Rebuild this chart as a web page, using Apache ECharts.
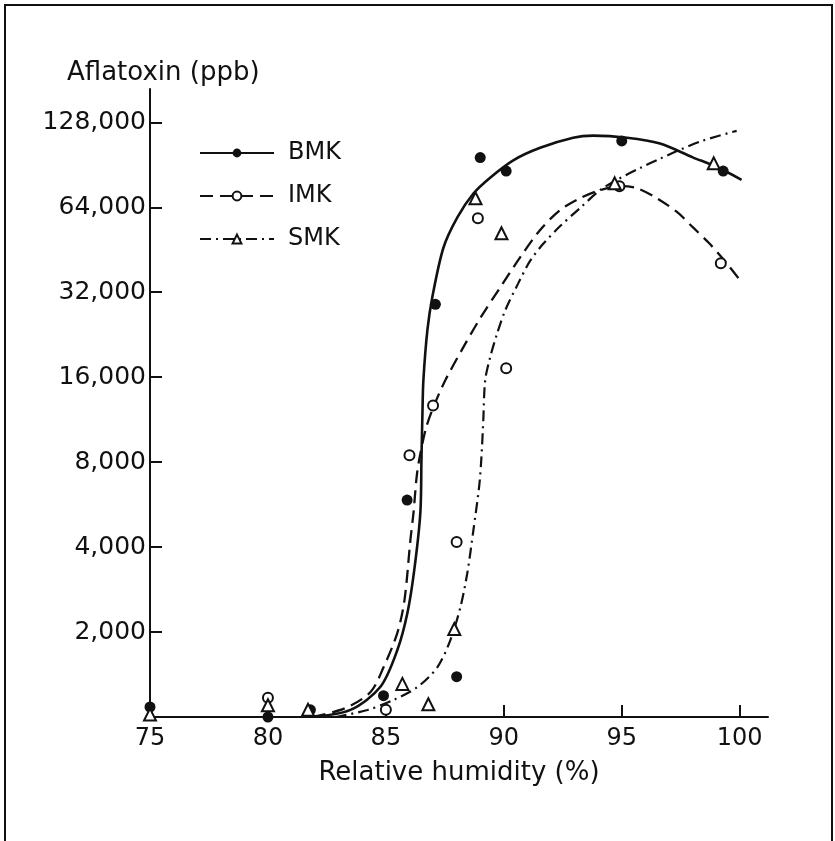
<!DOCTYPE html>
<html>
<head>
<meta charset="utf-8">
<script src="https://cdn.jsdelivr.net/npm/echarts@6/dist/echarts.min.js"></script>
<style>
  html, body { margin: 0; padding: 0; background: #fff; }
  #chart { width: 835px; height: 841px; }
</style>
</head>
<body>
<div id="chart"></div>
<script>
// aflatoxin values are in thousands of ppb (log2 axis: 2, 4, ... 128)
const yTicks = [2, 4, 8, 16, 32, 64, 128];
const xTicks = [75, 80, 85, 90, 95, 100];

// measured points
const bmkPoints = [[75, 1.085], [80, 1.0], [81.8, 1.06], [84.9, 1.19], [85.9, 5.87], [87.1, 29.0],
  [88.0, 1.39], [89.0, 96], [90.1, 86], [95.0, 110], [99.3, 86]];
const imkPoints = [[80, 1.17], [85.0, 1.06], [86.0, 8.47], [87.0, 12.7], [88.0, 4.17], [88.9, 58.5],
  [90.1, 17.2], [94.9, 76.0], [99.2, 40.5]];
const smkPoints = [[75, 1.02], [80, 1.10], [81.7, 1.06], [85.7, 1.31], [86.8, 1.11], [87.9, 2.05],
  [88.8, 68.9], [89.9, 51.8], [94.7, 77.8], [98.9, 91.6]];

// fitted curves
const bmkCurve = [[81.8, 1.0], [83.5, 1.06], [84.77, 1.28], [85.49, 1.73], [85.91, 2.33], [86.2, 3.3],
  [86.46, 5.28], [86.51, 8.35], [86.55, 11.9], [86.59, 15.6], [86.76, 23.5], [86.97, 30.8], [87.44, 46.0],
  [88.03, 58.9], [88.71, 71.6], [89.42, 81.5], [90.4, 93.9], [91.54, 104], [92.94, 112.9], [93.78, 114.8],
  [95.22, 112.9], [96.62, 107.6], [98.01, 96.2], [99.03, 88.9], [100.08, 80.1]];
const imkCurve = [[81.9, 1.0], [83.29, 1.076], [84.35, 1.226], [84.9, 1.5], [85.49, 1.99], [85.79, 2.6],
  [86.04, 4.24], [86.17, 5.28], [86.34, 7.49], [86.68, 10.4], [87.01, 12.5], [87.52, 15.6], [88.28, 20.4],
  [89.0, 25.9], [89.85, 33.3], [90.69, 42.5], [91.54, 53.2], [92.39, 62.6], [93.23, 68.9], [94.08, 73.6],
  [94.92, 76.0], [95.64, 74.8], [96.49, 68.9], [97.34, 61.6], [98.01, 54.4], [98.73, 47.5], [99.45, 40.5],
  [100.08, 34.7]];
const smkCurve = [[82.87, 1.0], [84.22, 1.059], [85.32, 1.149], [86.34, 1.277], [87.18, 1.5], [87.73, 1.87],
  [88.16, 2.45], [88.45, 3.23], [88.71, 4.59], [88.96, 6.63], [89.05, 8.3], [89.13, 11.27], [89.21, 15.6],
  [89.42, 18.8], [89.72, 22.9], [90.06, 27.6], [90.61, 34.4], [91.12, 41.4], [91.67, 47.5], [92.39, 54.9],
  [93.23, 63.6], [94.08, 73.6], [94.8, 80.1], [95.77, 88.1], [96.62, 95.1], [97.46, 102.3], [98.43, 110.2],
  [99.87, 119.4]];

const ink = '#111';
const font = 'DejaVu Sans';

const chart = echarts.init(document.getElementById('chart'));

const curve = (name, data, dash, symbol, width) => ({
  name,
  type: 'line',
  data,
  smooth: 0.3,
  symbol,
  showSymbol: false,
  itemStyle: { color: ink },
  lineStyle: { color: ink, width, type: dash },
  emphasis: { disabled: true },
  z: 2,
});

const points = (name, data, symbol, size, filled) => ({
  name,
  type: 'scatter',
  data,
  symbol,
  symbolSize: size,
  itemStyle: filled
    ? { color: ink, opacity: 1 }
    : { color: '#fff', borderColor: ink, borderWidth: 2, opacity: 1 },
  emphasis: { disabled: true },
  z: 3,
});

chart.setOption({
  backgroundColor: '#fff',
  animation: false,
  textStyle: { fontFamily: font, color: ink },
  title: {
    text: 'Aflatoxin (ppb)',
    left: 62,
    top: 55,
    textStyle: { fontFamily: font, fontSize: 26, fontWeight: 'normal', color: ink },
  },
  legend: {
    data: ['BMK', 'IMK', 'SMK'],
    orient: 'vertical',
    left: 194,
    top: 136,
    itemWidth: 74,
    itemHeight: 11,
    itemGap: 19,
    textStyle: { fontFamily: font, fontSize: 24, color: ink, padding: [0, 0, 0, 9] },
  },
  graphic: [{
    type: 'rect',
    shape: { x: 5, y: 5, width: 827, height: 880 },
    style: { fill: 'none', stroke: ink, lineWidth: 2 },
    silent: true,
  }],
  grid: { left: 150, right: 67, top: 89, bottom: 124, outerBoundsMode: 'none' },
  xAxis: {
    type: 'value',
    min: 75,
    max: 101.2,
    interval: 5,
    name: 'Relative humidity (%)',
    nameLocation: 'middle',
    nameGap: 43,
    nameTextStyle: { fontFamily: font, fontSize: 26, color: ink },
    splitLine: { show: false },
    axisLine: { lineStyle: { color: ink, width: 2 } },
    axisTick: { inside: true, length: 12, lineStyle: { color: ink, width: 2 }, customValues: xTicks },
    axisLabel: { fontFamily: font, fontSize: 24, color: ink, margin: 10, customValues: xTicks },
  },
  yAxis: {
    type: 'log',
    logBase: 2,
    min: 1,
    max: 168,
    splitLine: { show: false },
    axisLine: { show: true, lineStyle: { color: ink, width: 2 } },
    axisTick: { show: true, inside: true, length: 12, lineStyle: { color: ink, width: 2 }, customValues: yTicks },
    axisLabel: {
      fontFamily: font,
      fontSize: 25,
      color: ink,
      margin: 4,
      customValues: yTicks,
      formatter: (v) => Math.round(v * 1000).toLocaleString('en-US'),
    },
  },
  series: [
    curve('BMK', bmkCurve, 'solid', 'circle', 2.6),
    curve('IMK', imkCurve, [13, 7], 'emptyCircle', 2.3),
    curve('SMK', smkCurve, [11, 5, 2, 5], 'emptyTriangle', 2.2),
    points('BMK points', bmkPoints, 'circle', 11, true),
    points('IMK points', imkPoints, 'circle', 10, false),
    points('SMK points', smkPoints, 'triangle', 12, false),
  ],
});
</script>
</body>
</html>
